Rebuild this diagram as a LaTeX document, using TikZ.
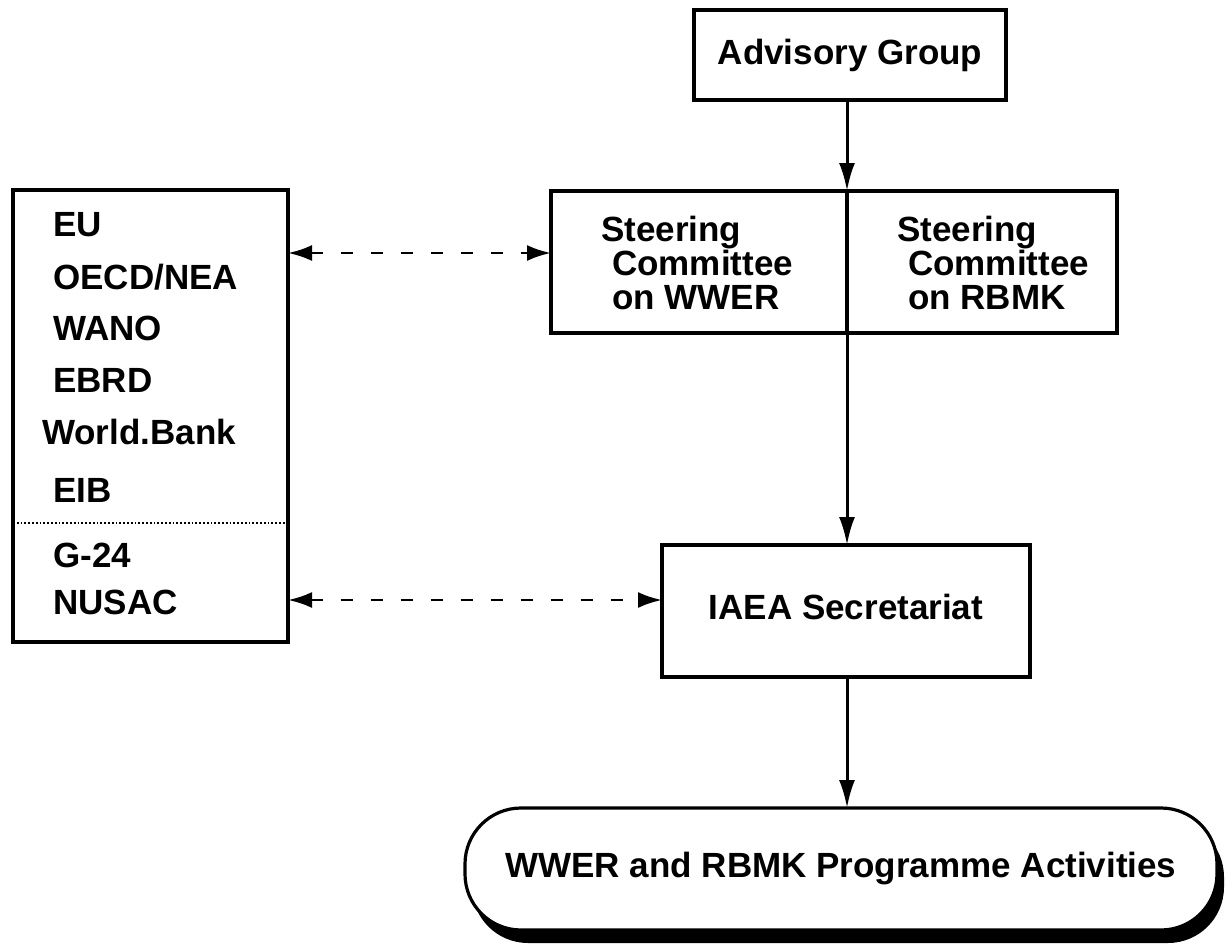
\documentclass[tikz,border=0pt]{standalone}
\usepackage{fontspec}
\setmainfont{Liberation Sans}
\usetikzlibrary{arrows.meta,shadows}
\begin{document}
\begin{tikzpicture}[x=1pt,y=-1pt,
  box/.style={draw,line width=3.2pt,inner sep=0pt,outer sep=0pt},
  lbl/.style={font=\fontsize{35}{34}\selectfont\bfseries,inner sep=0pt},
  arr/.style={line width=3pt,-{Latex[length=28pt,width=16pt]}},
  darr/.style={line width=2.8pt,dash pattern=on 12pt off 18pt,{Latex[length=24pt,width=16pt]}-{Latex[length=24pt,width=16pt]}}]
\useasboundingbox (0,0) rectangle (1226,951);

% Advisory Group
\node[box,lbl,minimum width=312pt,minimum height=90pt] (adv) at (850,55) {Advisory Group};

% Steering committees
\node[box,minimum width=296pt,minimum height=142pt] (wwer) at (699,262) {};
\node[box,minimum width=270pt,minimum height=142pt] (rbmk) at (982,262) {};
\node[lbl,anchor=north west,align=left] (wwertxt) at (601,216)
  {Steering\\\hspace*{11pt}Committee\\\hspace*{11pt}on WWER};
\node[lbl,anchor=north west,align=left] (rbmktxt) at (897,216)
  {Steering\\\hspace*{11pt}Committee\\\hspace*{11pt}on RBMK};

% Left box
\node[box,minimum width=275pt,minimum height=452pt] (orgs) at (150.5,416) {};
\draw[line width=1.8pt,dotted] (orgs.west |- 0,523) coordinate (dl) -- (orgs.east |- 0,523) coordinate (dr);
\node[lbl,anchor=west] (eu) at (53,225) {EU};
\node[lbl,anchor=west] (oecd) at (53,277) {OECD/NEA};
\node[lbl,anchor=west] (wano) at (53,328) {WANO};
\node[lbl,anchor=west] (ebrd) at (53,380) {EBRD};
\node[lbl,anchor=west] (wb) at (42,432) {World.Bank};
\node[lbl,anchor=west] (eib) at (53,490) {EIB};
\node[lbl,anchor=west] (g24) at (53,555) {G-24};
\node[lbl,anchor=west] (nusac) at (53,602) {NUSAC};

% IAEA Secretariat
\node[box,minimum width=368pt,minimum height=132pt] (iaea) at (846,611) {};
\node[lbl] (iaeatxt) at (846,607) {IAEA Secretariat};

% Programme activities
\node[box,rounded corners=56pt,minimum width=752pt,minimum height=122pt,fill=white,
  drop shadow={shadow xshift=7pt,shadow yshift=-13pt,fill=black,opacity=1}] (prog) at (841,869) {};
\node[lbl] (progtxt) at (841,869) {WWER and RBMK Programme Activities};

% connectors
\draw[arr] (adv.south -| wwer.north east) -- (wwer.north east);
\draw[arr] (wwer.south east) -- (wwer.south east |- iaea.north);
\draw[arr] (iaea.south -| wwer.south east) -- (prog.north -| wwer.south east);
\draw[darr] (orgs.east |- 0,253) -- (wwer.west |- 0,253);
\draw[darr] (orgs.east |- 0,600) -- (iaea.west |- 0,600);
\end{tikzpicture}
\end{document}
